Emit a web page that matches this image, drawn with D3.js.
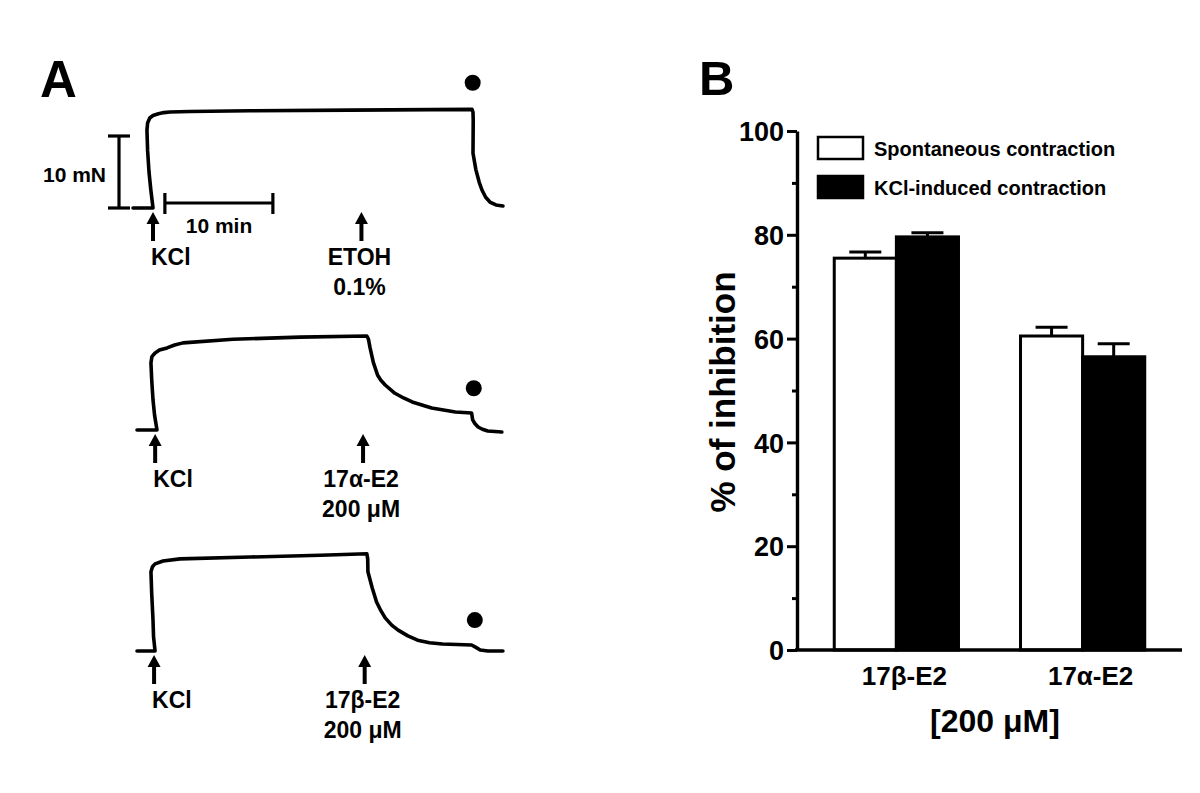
<!DOCTYPE html>
<html lang="en">
<head>
<meta charset="UTF-8">
<title>Tension traces and % inhibition</title>
<style>
  body { margin: 0; background: #fff; }
  text { font-family: "Liberation Sans", Arial, sans-serif; font-weight: bold; fill: #000; }
</style>
</head>
<body>
<script src="https://cdn.jsdelivr.net/npm/d3@7"></script>
<script>

    // Panel A: tension traces, [time (min), force (mN)], time 0 = KCl
    var traceEtoh = [[-1.85, 0], [0, 0], [-0.2, 2.5], [-0.37, 5.0], [-0.5, 8], [-0.56, 10.8],
        [-0.5, 11.8], [-0.3, 12.5], [0, 12.85], [0.5, 13.1], [1.0, 13.25], [1.57, 13.33],
        [3.43, 13.4], [8.98, 13.5], [18.2, 13.6], [29.54, 13.7], [29.63, 13.3], [29.65, 12.2],
        [29.63, 7.6], [29.9, 5.3], [30.2, 3.6], [30.46, 2.5], [30.8, 1.5], [31.2, 0.83],
        [31.75, 0.42], [32.4, 0.28]];
    var traceAlpha = [[-1.48, 0], [0.37, 0], [0.15, 2], [0, 4.2], [-0.12, 7], [-0.19, 9.3],
        [-0.1, 10.2], [0.19, 10.7], [0.6, 11.1], [1.3, 11.4], [2.0, 11.8], [2.78, 12.1],
        [7.4, 12.6], [13.6, 12.9], [19.8, 13.05], [19.95, 12.6], [20.1, 11.4], [20.4, 9.4],
        [20.8, 7.6], [21.1, 6.9], [21.5, 6.25], [22.4, 5.1], [23.2, 4.45], [24.0, 3.9],
        [25.8, 3.05], [28.0, 2.5], [29.5, 2.36], [29.6, 1.4], [29.8, 0.9], [30.1, 0.42],
        [30.5, 0.1], [31.0, -0.14], [32.3, -0.28]];
    var traceBeta = [[-1.48, 0], [0.19, 0], [0.05, 2], [0, 4.3], [-0.12, 8], [-0.19, 11.0],
        [-0.05, 11.7], [0.19, 12.1], [0.93, 12.5], [2.5, 12.8], [9.0, 13.05], [15.5, 13.3],
        [19.8, 13.5], [19.88, 12.8], [19.9, 11.0], [20.3, 8.75], [20.7, 6.8], [21.1, 5.6],
        [21.5, 4.6], [22.1, 3.6], [22.7, 2.9], [23.6, 2.1], [24.5, 1.5], [25.6, 1.15],
        [26.8, 0.97], [29.5, 0.83], [29.9, 0.5], [30.3, 0.14], [31.0, 0], [32.4, 0]];

    // drug additions: [time, line1, line2]
    var eventsEtoh = [[0, "KCl", ""], [19.3, "ETOH", "0.1%"]];
    var eventsAlpha = [[0.2, "KCl", ""], [19.45, "17\u03b1-E2", "200 \u03bcM"]];
    var eventsBeta = [[0.1, "KCl", ""], [19.6, "17\u03b2-E2", "200 \u03bcM"]];

    // washout dots [time, force]
    var dotEtoh = [29.6, 17.4];
    var dotAlpha = [29.7, 5.8];
    var dotBeta = [29.8, 4.3];

    // Panel B: % of inhibition
    var categories = ["17\u03b2-E2", "17\u03b1-E2"];
    var seriesNames = ["Spontaneous contraction", "KCl-induced contraction"];
    var spontaneous = [75.5, 60.5];
    var spontaneousErr = [1.2, 1.7];
    var kclInduced = [79.6, 56.5];
    var kclInducedErr = [0.8, 2.5];
    var yTicks = [0, 20, 40, 60, 80, 100];

    var svg = d3.select("body").append("svg")
        .attr("width", 1200)
        .attr("height", 793);

    svg.append("rect").attr("width", 1200).attr("height", 793).attr("fill", "#fff");

    // ---------- panel A ----------
    svg.append("text").attr("x", 40).attr("y", 97).attr("font-size", "51px").text("A");

    var xA = d3.scaleLinear().domain([0, 10]).range([153, 261]);

    var line = d3.line();

    function drawTrace(data, events, dot, base) {
        var y = d3.scaleLinear().domain([0, 10]).range([base, base - 72]);
        var g = svg.append("g");

        line.x(function (d) { return xA(d[0]); })
            .y(function (d) { return y(d[1]); });

        g.append("path")
            .datum(data)
            .attr("d", line)
            .attr("fill", "none")
            .attr("stroke", "#000")
            .attr("stroke-width", 3.6)
            .attr("stroke-linejoin", "round")
            .attr("stroke-linecap", "round");

        g.append("circle")
            .attr("cx", xA(dot[0]))
            .attr("cy", y(dot[1]))
            .attr("r", 8);

        var ev = g.selectAll(".ev").data(events).enter().append("g")
            .attr("transform", function (d) { return "translate(" + xA(d[0]) + "," + base + ")"; });

        ev.append("line")
            .attr("x1", 0).attr("x2", 0)
            .attr("y1", 12).attr("y2", 33)
            .attr("stroke", "#000").attr("stroke-width", 4);
        ev.append("path")
            .attr("d", "M0,4 L-6.5,16 L6.5,16 Z");

        ev.append("text")
            .attr("y", 57)
            .attr("x", -2)
            .attr("text-anchor", function (d, i) { return i == 0 ? "start" : "middle"; })
            .attr("font-size", "23px")
            .text(function (d) { return d[1]; });
        ev.append("text")
            .attr("y", 87)
            .attr("x", -2)
            .attr("text-anchor", "middle")
            .attr("font-size", "23px")
            .text(function (d) { return d[2]; });

        return y;
    }

    var yEtoh = drawTrace(traceEtoh, eventsEtoh, dotEtoh, 208);
    drawTrace(traceAlpha, eventsAlpha, dotAlpha, 430);
    drawTrace(traceBeta, eventsBeta, dotBeta, 651);

    // scale bars: 10 mN and 10 min
    var sb = svg.append("g").attr("stroke", "#000").attr("stroke-width", 3.2);
    sb.append("line").attr("x1", 119).attr("x2", 119).attr("y1", yEtoh(0)).attr("y2", yEtoh(10));
    sb.append("line").attr("x1", 108).attr("x2", 130).attr("y1", yEtoh(0)).attr("y2", yEtoh(0));
    sb.append("line").attr("x1", 108).attr("x2", 130).attr("y1", yEtoh(10)).attr("y2", yEtoh(10));
    sb.append("line").attr("x1", xA(1.1)).attr("x2", xA(11.1)).attr("y1", 203).attr("y2", 203);
    sb.append("line").attr("x1", xA(1.1)).attr("x2", xA(1.1)).attr("y1", 193).attr("y2", 214);
    sb.append("line").attr("x1", xA(11.1)).attr("x2", xA(11.1)).attr("y1", 193).attr("y2", 214);

    svg.append("text").attr("x", 106).attr("y", 182).attr("text-anchor", "end")
        .attr("font-size", "21px").text("10 mN");
    svg.append("text").attr("x", 219).attr("y", 233).attr("text-anchor", "middle")
        .attr("font-size", "21px").text("10 min");

    // ---------- panel B ----------
    svg.append("text").attr("x", 699).attr("y", 95).attr("font-size", "49px").text("B");

    var y = d3.scaleLinear().domain([0, 100]).range([650, 131]);
    var x0 = d3.scaleBand().domain(categories).range([797, 1182]).paddingInner(0.333).paddingOuter(0.2);
    var x1 = d3.scaleBand().domain(seriesNames).range([0, x0.bandwidth()]);

    var rows = categories.map(function (c, i) {
        return [
            {cat: c, s: seriesNames[0], v: spontaneous[i], e: spontaneousErr[i], fill: "#fff"},
            {cat: c, s: seriesNames[1], v: kclInduced[i], e: kclInducedErr[i], fill: "#000"}
        ];
    });
    var bars = [].concat.apply([], rows);

    // error bars (drawn first so the bar outline covers the stem base)
    var eb = svg.append("g").attr("stroke", "#000").attr("stroke-width", 3);
    eb.selectAll(".stem").data(bars).enter().append("line")
        .attr("x1", function (d) { return x0(d.cat) + x1(d.s) + x1.bandwidth() / 2; })
        .attr("x2", function (d) { return x0(d.cat) + x1(d.s) + x1.bandwidth() / 2; })
        .attr("y1", function (d) { return y(d.v); })
        .attr("y2", function (d) { return y(d.v + d.e); });
    eb.selectAll(".cap").data(bars).enter().append("line")
        .attr("x1", function (d) { return x0(d.cat) + x1(d.s) + x1.bandwidth() / 2 - 16; })
        .attr("x2", function (d) { return x0(d.cat) + x1(d.s) + x1.bandwidth() / 2 + 16; })
        .attr("y1", function (d) { return y(d.v + d.e); })
        .attr("y2", function (d) { return y(d.v + d.e); });

    svg.append("g").selectAll("rect").data(bars).enter().append("rect")
        .attr("x", function (d) { return x0(d.cat) + x1(d.s); })
        .attr("width", x1.bandwidth())
        .attr("y", function (d) { return y(d.v); })
        .attr("height", function (d) { return y(0) - y(d.v); })
        .attr("fill", function (d) { return d.fill; })
        .attr("stroke", "#000")
        .attr("stroke-width", 3);

    // y axis with minor ticks
    var yAxis = svg.append("g")
        .attr("transform", "translate(797,0)")
        .call(d3.axisLeft(y).tickValues(yTicks).tickSize(10).tickSizeOuter(0).tickPadding(3));
    yAxis.select(".domain").attr("stroke-width", 3.4);
    yAxis.selectAll(".tick line").attr("stroke-width", 3);
    yAxis.selectAll(".tick text")
        .attr("font-size", "27px")
        .attr("font-family", "Liberation Sans, Arial, sans-serif")
        .attr("font-weight", "bold")
        .attr("dy", "0.36em");
    svg.append("g").attr("transform", "translate(797,0)")
        .call(d3.axisLeft(y).tickValues([10, 30, 50, 70, 90]).tickSize(5).tickFormat(""))
        .call(function (g) { g.select(".domain").remove(); })
        .selectAll("line").attr("stroke-width", 3);

    // x axis, no ticks
    var xAxis = svg.append("g")
        .attr("transform", "translate(0,650)")
        .call(d3.axisBottom(x0).tickSize(0).tickSizeOuter(0).tickPadding(0));
    xAxis.select(".domain").attr("stroke-width", 3.4).attr("d", "M795,0H1182");
    xAxis.selectAll(".tick text")
        .attr("font-size", "26px")
        .attr("font-family", "Liberation Sans, Arial, sans-serif")
        .attr("font-weight", "bold")
        .attr("dx", 8)
        .attr("y", 35)
        .attr("dy", 0);

    svg.append("text")
        .attr("transform", "translate(735,392) rotate(-90)")
        .attr("text-anchor", "middle")
        .attr("font-size", "35px")
        .text("% of inhibition");

    svg.append("text")
        .attr("x", 995).attr("y", 732)
        .attr("text-anchor", "middle")
        .attr("font-size", "32px")
        .text("[200 \u03bcM]");

    // legend
    var legend = svg.append("g").selectAll("g").data(seriesNames).enter().append("g")
        .attr("transform", function (d, i) { return "translate(818," + (137 + i * 39) + ")"; });
    legend.append("rect")
        .attr("width", 45).attr("height", 22)
        .attr("fill", function (d, i) { return i == 0 ? "#fff" : "#000"; })
        .attr("stroke", "#000").attr("stroke-width", 2.5);
    legend.append("text")
        .attr("x", 56).attr("y", 19)
        .attr("font-size", "20px")
        .text(function (d) { return d; });

</script>
</body>
</html>
